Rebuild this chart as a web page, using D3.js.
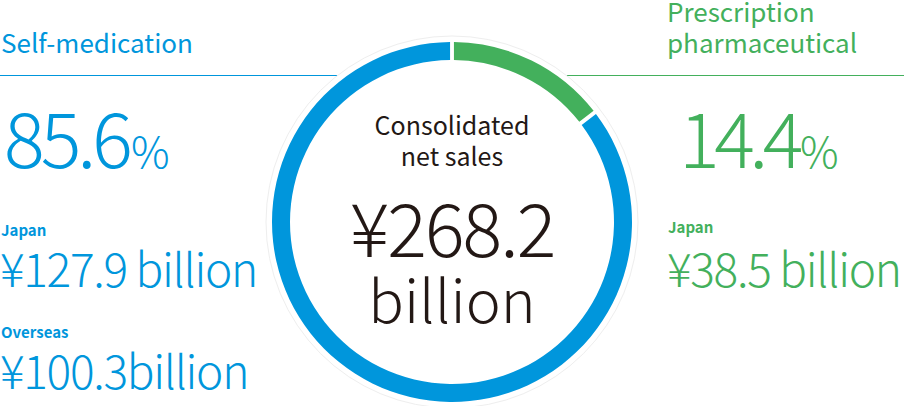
<!DOCTYPE html>
<html>
<head>
<meta charset="utf-8">
<script src="https://cdn.jsdelivr.net/npm/d3@7"></script>
<style>
  body { margin: 0; background: #fff; }
  svg { display: block; }
  text { font-family: "Noto Sans CJK JP", "Noto Sans", sans-serif; }
</style>
</head>
<body>
<div id="chart"></div>
<script>
// segment shares of consolidated net sales (%)
const segments = ["Prescription pharmaceutical", "Self-medication"];
const shares = [14.4, 85.6];
const segmentColors = ["#43b05c", "#0096dc"];

// sales by region (billion yen)
const selfRegions = ["Japan", "Overseas"];
const selfSales = [127.9, 100.3];
const rxRegions = ["Japan"];
const rxSales = [38.5];
const totalSales = 268.2;

const width = 904, height = 406;
const cx = 452, cy = 222;

const svg = d3.select("#chart")
    .append("svg")
    .attr("width", width)
    .attr("height", height);

const blue = segmentColors[1], green = segmentColors[0];

// header rules
svg.append("line")
    .attr("x1", 0).attr("x2", cx).attr("y1", 75.5).attr("y2", 75.5)
    .attr("stroke", blue).attr("stroke-width", 1);
svg.append("line")
    .attr("x1", cx).attr("x2", width).attr("y1", 75.5).attr("y2", 75.5)
    .attr("stroke", green).attr("stroke-width", 1);

// white disc behind the ring hides the rules
svg.append("circle")
    .attr("cx", cx).attr("cy", cy).attr("r", 186)
    .attr("fill", "#fff")
    .attr("stroke", "#eeeeee").attr("stroke-width", 1);

const pie = d3.pie().sort(null).value(d => d).padAngle(0.016);
const arc = d3.arc().innerRadius(162).outerRadius(180);

svg.append("g")
    .attr("transform", "translate(" + cx + "," + cy + ")")
    .selectAll("path")
    .data(pie(shares))
    .enter()
    .append("path")
    .attr("d", arc)
    .attr("fill", (d, i) => segmentColors[i]);

// centre labels
const center = svg.append("g").attr("text-anchor", "middle").attr("fill", "#231815");
center.append("text").attr("x", cx).attr("y", 135).attr("font-size", 25).text("Consolidated");
center.append("text").attr("x", cx).attr("y", 166).attr("font-size", 25).text("net sales");
center.append("text").attr("x", cx).attr("y", 257).attr("font-size", 74).attr("font-weight", 300)
    .style("letter-spacing", "-2px")
    .text("¥" + totalSales.toFixed(1));
center.append("text").attr("x", cx).attr("y", 323).attr("font-size", 59).attr("font-weight", 300)
    .text("billion");

// left block: self-medication
svg.append("text").attr("x", 1).attr("y", 53).attr("font-size", 26).attr("fill", blue)
    .text(segments[1]);
const pctL = svg.append("text").attr("x", 4).attr("y", 168).attr("fill", blue).attr("font-weight", 300);
pctL.append("tspan").attr("font-size", 76).style("letter-spacing", "-4px").text(shares[1].toFixed(1));
pctL.append("tspan").attr("font-size", 43).attr("dx", 2).text("%");

const leftY = [236, 338];
selfRegions.forEach((r, i) => {
    svg.append("text").attr("x", 1).attr("y", leftY[i]).attr("font-size", 15).attr("font-weight", 700)
        .attr("fill", blue).text(r);
    svg.append("text").attr("x", 0).attr("y", leftY[i] + 51).attr("font-size", 46).attr("font-weight", 300)
        .style("letter-spacing", "-1.3px")
        .attr("fill", blue).text("¥" + selfSales[i].toFixed(1) + (i === 0 ? " billion" : "billion"));
});

// right block: prescription pharmaceutical
svg.append("text").attr("x", 667).attr("y", 22).attr("font-size", 26).attr("fill", green)
    .text("Prescription");
svg.append("text").attr("x", 667).attr("y", 53).attr("font-size", 26).attr("fill", green)
    .text("pharmaceutical");
const pctR = svg.append("text").attr("x", 679).attr("y", 168).attr("fill", green).attr("font-weight", 300);
pctR.append("tspan").attr("font-size", 76).style("letter-spacing", "-5.5px").text(shares[0].toFixed(1));
pctR.append("tspan").attr("font-size", 43).attr("dx", 2).text("%");

rxRegions.forEach((r, i) => {
    svg.append("text").attr("x", 668).attr("y", 233).attr("font-size", 15).attr("font-weight", 700)
        .attr("fill", green).text(r);
    svg.append("text").attr("x", 667).attr("y", 287).attr("font-size", 46).attr("font-weight", 300)
        .style("letter-spacing", "-1.3px")
        .attr("fill", green).text("¥" + rxSales[i].toFixed(1) + " billion");
});
</script>
</body>
</html>
